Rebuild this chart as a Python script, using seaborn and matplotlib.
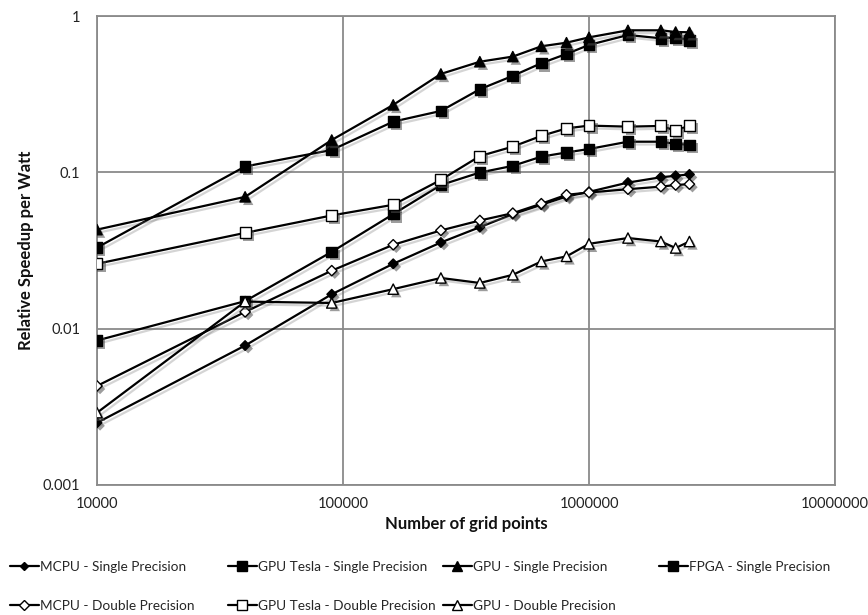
import numpy as np
import pandas as pd
import matplotlib
matplotlib.use("Agg")
import matplotlib.pyplot as plt
import matplotlib.patheffects as pe
from matplotlib.lines import Line2D
from matplotlib.ticker import FixedLocator, FixedFormatter, NullLocator
import seaborn as sns

# Grid sizes (100^2 ... 1600^2) and relative speedup per watt for each device
grid_points = [10000, 40000, 90000, 160000, 250000, 360000, 490000,
               640000, 810000, 1000000, 1440000, 1960000, 2250000, 2560000]

mcpu_single = [0.0025, 0.0078, 0.0166, 0.026, 0.0356, 0.0446, 0.054,
               0.062, 0.070, 0.075, 0.086, 0.093, 0.095, 0.097]
gpu_tesla_single = [0.033, 0.109, 0.139, 0.211, 0.247, 0.34, 0.414,
                    0.499, 0.572, 0.653, 0.756, 0.72, 0.73, 0.70]
gpu_single = [0.043, 0.0697, 0.161, 0.27, 0.426, 0.51, 0.55,
              0.64, 0.675, 0.73, 0.81, 0.81, 0.79, 0.787]
fpga_single = [0.0084, 0.015, 0.031, 0.054, 0.083, 0.0997, 0.110,
               0.126, 0.134, 0.141, 0.157, 0.157, 0.152, 0.150]
mcpu_double = [0.0043, 0.0128, 0.0235, 0.0344, 0.0425, 0.0492, 0.0548,
               0.063, 0.0718, 0.0743, 0.078, 0.081, 0.083, 0.084]
gpu_tesla_double = [0.026, 0.041, 0.053, 0.062, 0.0895, 0.127, 0.146,
                    0.171, 0.191, 0.199, 0.196, 0.198, 0.185, 0.199]
gpu_double = [0.0029, 0.0149, 0.0146, 0.0179, 0.0211, 0.0196, 0.0221,
              0.0269, 0.029, 0.0349, 0.038, 0.0361, 0.0328, 0.0361]

series_names = ["MCPU - Single Precision", "GPU Tesla - Single Precision",
                "GPU - Single Precision", "FPGA - Single Precision",
                "MCPU - Double Precision", "GPU Tesla - Double Precision",
                "GPU - Double Precision"]
series_values = [mcpu_single, gpu_tesla_single, gpu_single, fpga_single,
                 mcpu_double, gpu_tesla_double, gpu_double]

x_ticks = [1e4, 1e5, 1e6, 1e7]
x_tick_labels = ["10000", "100000", "1000000", "10000000"]
y_ticks = [0.001, 0.01, 0.1, 1]
y_tick_labels = ["0.001", "0.01", "0.1", "1"]

# marker style per series: (marker, face colour, scatter size, legend size)
styles = {
    "MCPU - Single Precision": ("D", "black", 24, 4.5),
    "GPU Tesla - Single Precision": ("s", "black", 58, 7),
    "GPU - Single Precision": ("^", "black", 55, 7),
    "FPGA - Single Precision": ("s", "black", 58, 7),
    "MCPU - Double Precision": ("D", "white", 28, 5),
    "GPU Tesla - Double Precision": ("s", "white", 62, 7),
    "GPU - Double Precision": ("^", "white", 55, 7),
}

df = pd.concat(
    [pd.DataFrame({"grid": grid_points, "speedup": vals, "series": name})
     for name, vals in zip(series_names, series_values)],
    ignore_index=True,
)

sns.set_style("white")
plt.rcParams["font.family"] = ["Lato", "DejaVu Sans"]

fig = plt.figure(figsize=(8.68, 6.15), dpi=100)
ax = fig.add_axes([97 / 868, 1 - 485 / 615, (835 - 97) / 868, (485 - 16) / 615])
ax.set_xscale("log")
ax.set_yscale("log")

line_fx = [pe.SimpleLineShadow(offset=(2, -2), shadow_color="0.45", alpha=0.3), pe.Normal()]
mark_fx = [pe.SimplePatchShadow(offset=(2.2, -2.2), shadow_rgbFace="0.3", alpha=0.55), pe.Normal()]

z = 3
for name in series_names:
    sub = df[df["series"] == name]
    marker, face, s, _ = styles[name]
    sns.lineplot(data=sub, x="grid", y="speedup", ax=ax, color="black",
                 lw=1.6, path_effects=line_fx, zorder=z, legend=False)
    sns.scatterplot(data=sub, x="grid", y="speedup", ax=ax, marker=marker,
                    s=s, color=face, edgecolor="black", linewidth=1.0,
                    path_effects=mark_fx, zorder=z + 1, legend=False)
    z += 2

ax.set_xlim(1e4, 1e7)
ax.set_ylim(0.001, 1)
ax.xaxis.set_major_locator(FixedLocator(x_ticks))
ax.xaxis.set_major_formatter(FixedFormatter(x_tick_labels))
ax.yaxis.set_major_locator(FixedLocator(y_ticks))
ax.yaxis.set_major_formatter(FixedFormatter(y_tick_labels))
ax.xaxis.set_minor_locator(NullLocator())
ax.yaxis.set_minor_locator(NullLocator())

ax.grid(True, which="major", color="#8a8a8a", lw=1.3)
for sp in ax.spines.values():
    sp.set_color("#8a8a8a")
    sp.set_linewidth(1.3)
ax.tick_params(axis="both", which="major", direction="out", length=4,
               width=1.2, color="#8a8a8a", labelsize=10.5, labelcolor="#222222")
ax.tick_params(axis="y", pad=8)
ax.tick_params(axis="x", pad=5)

ax.set_xlabel("Number of grid points", fontsize=12, fontweight="bold",
              color="#111111")
ax.set_ylabel("Relative Speedup per Watt", fontsize=12, fontweight="bold",
              color="#111111")
ax.xaxis.set_label_coords(0.5, -(524 - 485) / 469)
ax.yaxis.set_label_coords(-(97 - 26) / 738, 0.5)
ax.xaxis.label.set_va("center")
ax.yaxis.label.set_va("center")

# Legend laid out as four columns of two rows beneath the plot
columns = [
    ["MCPU - Single Precision", "MCPU - Double Precision"],
    ["GPU Tesla - Single Precision", "GPU Tesla - Double Precision"],
    ["GPU - Single Precision", "GPU - Double Precision"],
    ["FPGA - Single Precision"],
]
col_x = [10, 228, 443, 659]
for cx, names in zip(col_x, columns):
    handles = []
    for name in names:
        marker, face, _, ms = styles[name]
        handles.append(Line2D([], [], color="black", lw=1.6, marker=marker,
                              markersize=ms, markerfacecolor=face,
                              markeredgecolor="black", markeredgewidth=1.0))
    fig.legend(handles, names, loc="upper left",
               bbox_to_anchor=(cx / 868, 1 - 561 / 615), frameon=False,
               fontsize=9.8, handlelength=2.1, handletextpad=0.1,
               borderpad=0, borderaxespad=0, labelspacing=2.0)

fig.savefig("out.png", dpi=100)
